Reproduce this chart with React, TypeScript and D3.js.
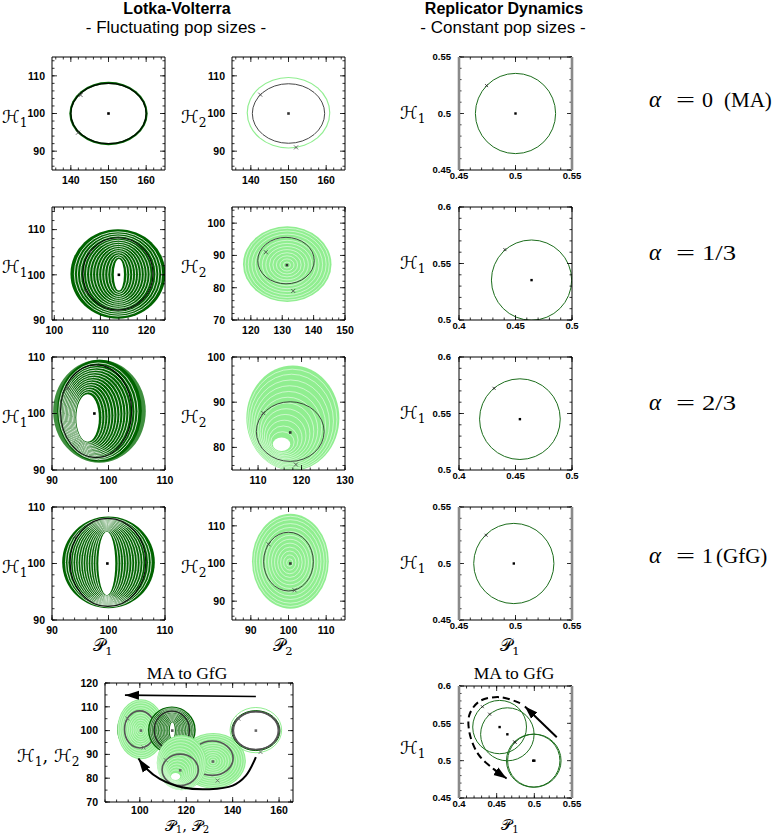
import React from 'react';
import * as d3 from 'd3';

// ---------- colours ----------
const DARK = '#006400';
const LIGHT = '#90ee90';
const MID = '#3f8f3f';

// ---------- data: Lotka-Volterra, host 1 vs parasite 1 (per alpha = 0, 1/3, 2/3, 1) ----------
const LV1_XDOM = [[135, 165], [99.5, 124], [90, 110], [90, 110]];
const LV1_YDOM = [[85, 115], [90, 115], [90, 110], [90, 110]];
const LV1_XTICKS = [[140, 150, 160], [100, 110, 120], [90, 100, 110], [90, 100, 110]];
const LV1_YTICKS = [[90, 100, 110], [90, 100, 110], [90, 100, 110], [90, 100, 110]];
// ellipses [cx, cy, rx, ry]
const H1_ORBIT = [[150, 100, 10.0, 8.0], [113.8, 100.2, 7.6, 8.0], [97.8, 100.4, 6.3, 8.2], [99.9, 100.2, 6.7, 7.8]];
const H1_SPREAD = [[150, 100, 10.4, 8.4], [113.8, 100.2, 10.3, 9.9], [98.4, 100.5, 7.5, 9.0], [100, 100.2, 8.2, 8.1]];
const H1_HOLE = [[150, 100, 9.8, 7.8], [114, 100, 1.1, 3.5], [96.3, 99.2, 2.0, 4.2], [99.7, 100, 1.5, 5.6]];
const H1_HALO = [null, null, [98.4, 100.4, 8.2, 9.1], null];
const H1_EQ = [[150, 100], [114, 100], [97.5, 100], [99.8, 100]];
const H1_MARK = [[[142.6, 104.9], [141.9, 94.9]], [[107.8, 105.2], [106.8, 96.3]], [[92.8, 104.5]], [[94, 104.8]]];

// ---------- data: Lotka-Volterra, host 2 vs parasite 2 ----------
const LV2_XDOM = [[135, 165], [114, 150], [104, 130], [85, 115]];
const LV2_YDOM = [[85, 115], [70, 105], [75, 100], [85, 115]];
const LV2_XTICKS = [[140, 150, 160], [120, 130, 140, 150], [110, 120, 130], [90, 100, 110]];
const LV2_YTICKS = [[90, 100, 110], [70, 80, 90, 100], [80, 90, 100], [90, 100, 110]];
const H2_ORBIT = [[150, 100, 9.6, 7.9], [131.2, 88.4, 9.0, 7.2], [117.4, 83.5, 7.8, 6.6], [100, 100.5, 6.6, 7.8]];
const H2_SPREAD = [[150, 100.2, 11.1, 9.5], [131.6, 87.3, 14.1, 11.7], [118, 86.5, 10.7, 11.6], [100.5, 100.6, 10.2, 12.6]];
const H2_HOLE = [[150, 100.2, 10.8, 9.2], [131.5, 87, 0, 0], [115.4, 80.7, 2.0, 1.5], [100.3, 100.2, 0, 0]];
const H2_EQ = [[150, 100], [131.5, 87], [117.4, 83.3], [100.5, 100]];
const H2_MARK = [[[142.5, 105], [152, 91]], [[124.8, 91], [133.5, 79]], [[111.2, 87.6], [118.7, 76.2]], [[94.7, 105.1], [101.6, 92.9]]];

const RING_DARK = [0.07, 0.14, 0.21, 0.28, 0.35, 0.42, 0.49, 0.56, 0.63, 0.7, 0.77, 0.84, 0.91];
const RING_LIGHT = [0.08, 0.16, 0.24, 0.32, 0.4, 0.48, 0.56, 0.64, 0.72, 0.8, 0.88, 0.95];

// ---------- data: replicator dynamics ----------
const RD_XDOM = [[0.45, 0.55], [0.4, 0.5], [0.4, 0.5], [0.45, 0.55]];
const RD_YDOM = [[0.45, 0.55], [0.5, 0.6], [0.5, 0.6], [0.45, 0.55]];
const RD_XTICKS = [[0.45, 0.5, 0.55], [0.4, 0.45, 0.5], [0.4, 0.45, 0.5], [0.45, 0.5, 0.55]];
const RD_YTICKS = [[0.45, 0.5, 0.55], [0.5, 0.55, 0.6], [0.5, 0.55, 0.6], [0.45, 0.5, 0.55]];
const RD_CX = [0.5, 0.4642, 0.4539, 0.4985];
const RD_CY = [0.5, 0.5353, 0.545, 0.5];
const RD_R = [0.0355, 0.0355, 0.0357, 0.0355];
const RD_MX = [0.4744, 0.4406, 0.431, 0.474];
const RD_MY = [0.5247, 0.5623, 0.5723, 0.525];

// ---------- combined panels ----------
const LVC_XDOM = [85, 166];
const LVC_YDOM = [70, 120];
const LVC_XTICKS = [100, 120, 140, 160];
const LVC_YTICKS = [70, 80, 90, 100, 110, 120];
const LV_TOP_ARROW = [[150, 114.3], [93.6, 114.9]];
const LV_CURVE_ARROW = [[150, 88.9], [145.7, 81.1], [140, 76.9], [130, 75.4], [118.6, 76.1], [108.6, 79.7], [102.9, 84], [99.4, 88.3]];

const RDC_XDOM = [0.4, 0.55];
const RDC_YDOM = [0.45, 0.6];
const RDC_XTICKS = [0.4, 0.45, 0.5, 0.55];
const RDC_YTICKS = [0.45, 0.5, 0.55, 0.6];
const RD_SOLID_ARROW = [[0.5298, 0.5313], [0.4875, 0.5725]];
const RD_DASH_ARROW = [[0.481, 0.577], [0.455, 0.585], [0.428, 0.58], [0.414, 0.562], [0.414, 0.537], [0.426, 0.508], [0.447, 0.488], [0.4632, 0.4761]];

const ALPHA_VAL = ['0', '1/3', '2/3', '1'];
const ALPHA_TAG = ['(MA)', '', '', '(GfG)'];

// ---------- layout ----------
const COLX = [52, 232, 459];
const ROWY = [57, 207, 357, 507];
const BOX = 113;
const ALPHA_BASE = [107, 260, 410, 563];

const SANS = 'Liberation Sans, Arial, Helvetica, sans-serif';
const SERIF = 'Liberation Serif, Times New Roman, serif';
const MATH = 'DejaVu Serif, DejaVu Sans, serif';

type Sc = d3.ScaleLinear<number, number>;
type E4 = number[];

function ep(sx: Sc, sy: Sc, e: E4) {
  const [cx, cy, rx, ry] = e;
  return { cx: sx(cx), cy: sy(cy), rx: Math.abs(sx(cx + rx) - sx(cx)), ry: Math.abs(sy(cy + ry) - sy(cy)) };
}
function lerp(a: E4, b: E4, f: number) {
  return a.map((v, i) => v + f * (b[i] - v));
}
function minorRange(d: number[], step: number) {
  const s = Math.ceil(d[0] / step - 1e-9);
  const e = Math.floor(d[1] / step + 1e-9);
  return d3.range(s, e + 1).map((k) => k * step);
}

function Mass({ sx, sy, outer, hole, halo, fill, fracs, ringW }: any) {
  return (
    <g>
      {halo && <ellipse {...ep(sx, sy, halo)} fill={MID} />}
      <ellipse {...ep(sx, sy, outer)} fill={fill} />
      {fracs.map((f: number, i: number) => (
        <ellipse key={i} {...ep(sx, sy, lerp(hole, outer, f))} fill="none" stroke="#fff" strokeWidth={ringW} opacity={0.9} />
      ))}
      {hole[2] > 0 && <ellipse {...ep(sx, sy, hole)} fill="#fff" />}
    </g>
  );
}

function Cross({ x, y, s = 2, color = '#444' }: any) {
  return <path d={`M${x - s},${y - s}L${x + s},${y + s}M${x - s},${y + s}L${x + s},${y - s}`} stroke={color} strokeWidth={0.8} />;
}
function Dot({ x, y, s = 2.6, color = '#000' }: any) {
  return <rect x={x - s / 2} y={y - s / 2} width={s} height={s} fill={color} />;
}

function Panel({ id, x, y, w, h, xd, yd, xt, yt, xm, ym, kind, grayLR, xlOff, children }: any) {
  const sx = d3.scaleLinear().domain(xd).range([x, x + w]);
  const sy = d3.scaleLinear().domain(yd).range([y + h, y]);
  const lv = kind === 'lv';
  const fs = lv ? 10.5 : 9.5;
  const maj = 5, mn = 2.5;
  const xMinor = minorRange(xd, xm);
  const yMinor = minorRange(yd, ym);
  const off = xlOff ?? (lv ? 14 : 9);
  return (
    <g>
      <defs>
        <clipPath id={id}>
          <rect x={x} y={y} width={w} height={h} />
        </clipPath>
      </defs>
      <g clipPath={`url(#${id})`}>{children(sx, sy)}</g>
      <g stroke="#000" strokeWidth={0.8}>
        {xMinor.map((v, i) => (
          <g key={'xm' + i}>
            <line x1={sx(v)} x2={sx(v)} y1={y + h} y2={y + h - mn} />
            <line x1={sx(v)} x2={sx(v)} y1={y} y2={y + mn} />
          </g>
        ))}
        {yMinor.map((v, i) => (
          <g key={'ym' + i}>
            <line y1={sy(v)} y2={sy(v)} x1={x} x2={x + mn} />
            <line y1={sy(v)} y2={sy(v)} x1={x + w} x2={x + w - mn} />
          </g>
        ))}
        {xt.map((v: number, i: number) => (
          <g key={'xt' + i}>
            <line x1={sx(v)} x2={sx(v)} y1={y + h} y2={y + h - maj} />
            <line x1={sx(v)} x2={sx(v)} y1={y} y2={y + maj} />
          </g>
        ))}
        {yt.map((v: number, i: number) => (
          <g key={'yt' + i}>
            <line y1={sy(v)} y2={sy(v)} x1={x} x2={x + maj} />
            <line y1={sy(v)} y2={sy(v)} x1={x + w} x2={x + w - maj} />
          </g>
        ))}
      </g>
      <line x1={x} x2={x + w} y1={y} y2={y} stroke="#000" strokeWidth={1} />
      <line x1={x} x2={x + w} y1={y + h} y2={y + h} stroke="#000" strokeWidth={1} />
      <line x1={x} x2={x} y1={y} y2={y + h} stroke={grayLR ? '#8a8a8a' : '#000'} strokeWidth={grayLR ? 2.6 : 1} />
      <line x1={x + w} x2={x + w} y1={y} y2={y + h} stroke={grayLR ? '#8a8a8a' : '#000'} strokeWidth={grayLR ? 2.6 : 1} />
      <g fontFamily={SANS} fontWeight="bold" fontSize={fs} fill="#000">
        {xt.map((v: number, i: number) => (
          <text key={'xl' + i} x={sx(v)} y={y + h + off} textAnchor="middle">
            {String(v)}
          </text>
        ))}
        {yt.map((v: number, i: number) => (
          <text key={'yl' + i} x={x - (lv ? 7 : 8)} y={sy(v) + (lv ? 3.8 : 3.3)} textAnchor="end">
            {String(v)}
          </text>
        ))}
      </g>
    </g>
  );
}

function MathLab({ x, y, parts, anchor = 'start', size = 18, sub = 3.5 }: any) {
  const nodes: any[] = [];
  parts.forEach((p: string[], i: number) => {
    nodes.push(
      <tspan key={'b' + i} dy={i > 0 ? -sub : 0}>
        {(i > 0 ? ', ' : '') + p[0]}
      </tspan>
    );
    nodes.push(
      <tspan key={'s' + i} fontSize={size * 0.68} dy={sub}>
        {p[1]}
      </tspan>
    );
  });
  return (
    <text x={x} y={y} fontFamily={MATH} fontSize={size} textAnchor={anchor} fill="#000">
      {nodes}
    </text>
  );
}

function AlphaLabel({ i }: { i: number }) {
  const y = ALPHA_BASE[i];
  const val = ALPHA_VAL[i];
  const tag = ALPHA_TAG[i];
  const valW = val.length > 1 ? 34 : 11;
  return (
    <g fontFamily={SERIF} fontSize={21} fill="#000">
      <text x={649} y={y} fontStyle="italic" fontSize={23}>
        α
      </text>
      <text x={676} y={y} textLength={19} lengthAdjust="spacingAndGlyphs">
        =
      </text>
      <text x={702} y={y} textLength={valW} lengthAdjust="spacingAndGlyphs">
        {val}
      </text>
      {tag && (
        <text x={i === 0 ? 724 : 716} y={y}>
          {tag}
        </text>
      )}
    </g>
  );
}

function LVPanelContent({ sx, sy, a, host }: any) {
  const dark = host === 1;
  const spread = dark ? H1_SPREAD[a] : H2_SPREAD[a];
  const hole = dark ? H1_HOLE[a] : H2_HOLE[a];
  const orbit = dark ? H1_ORBIT[a] : H2_ORBIT[a];
  const eq = dark ? H1_EQ[a] : H2_EQ[a];
  const marks = dark ? H1_MARK[a] : H2_MARK[a];
  const halo = dark ? H1_HALO[a] : null;
  const fracs = a === 0 ? [] : dark ? RING_DARK : RING_LIGHT;
  return (
    <g>
      <Mass sx={sx} sy={sy} outer={spread} hole={hole} halo={halo} fill={dark ? DARK : LIGHT} fracs={fracs} ringW={dark ? 0.9 : 0.6} />
      <ellipse {...ep(sx, sy, orbit)} fill="none" stroke={dark ? '#000' : '#333'} strokeWidth={dark ? 1.2 : 1} opacity={0.9} />
      {marks.map((m: number[], k: number) => (
        <Cross key={k} x={sx(m[0])} y={sy(m[1])} />
      ))}
      <Dot x={sx(eq[0])} y={sy(eq[1])} color={dark ? '#000' : '#333'} />
    </g>
  );
}

function LVCombined({ sx, sy }: any) {
  const groups: any[] = [];
  const massH1 = (a: number) => (
    <g key={'h1' + a}>
      <Mass sx={sx} sy={sy} outer={H1_SPREAD[a]} hole={H1_HOLE[a]} halo={H1_HALO[a]} fill={DARK} fracs={RING_DARK} ringW={0.7} />
      <ellipse {...ep(sx, sy, H1_ORBIT[a])} fill="none" stroke="#222" strokeWidth={1.2} />
      <Dot x={sx(H1_EQ[a][0])} y={sy(H1_EQ[a][1])} color="#555" />
    </g>
  );
  const massH2 = (a: number) => (
    <g key={'h2' + a}>
      <Mass sx={sx} sy={sy} outer={H2_SPREAD[a]} hole={H2_HOLE[a]} fill={LIGHT} fracs={RING_LIGHT} ringW={0.5} />
      <ellipse {...ep(sx, sy, H2_ORBIT[a])} fill="none" stroke="#555" strokeWidth={1.6} />
      {H2_MARK[a].map((m: number[], k: number) => (
        <Cross key={k} x={sx(m[0])} y={sy(m[1])} color="#666" />
      ))}
      <Dot x={sx(H2_EQ[a][0])} y={sy(H2_EQ[a][1])} color="#666" />
    </g>
  );
  groups.push(massH1(2), massH1(3), massH2(3), massH1(1), massH2(1), massH2(2));
  groups.push(
    <g key="a0">
      <ellipse {...ep(sx, sy, H2_SPREAD[0])} fill="none" stroke={LIGHT} strokeWidth={1} />
      <ellipse {...ep(sx, sy, H1_SPREAD[0])} fill="none" stroke={DARK} strokeWidth={1} />
      <ellipse {...ep(sx, sy, H1_ORBIT[0])} fill="none" stroke="#444" strokeWidth={1.4} />
      <ellipse {...ep(sx, sy, H2_ORBIT[0])} fill="none" stroke="#555" strokeWidth={1.2} />
      {H2_MARK[0].map((m: number[], k: number) => (
        <Cross key={k} x={sx(m[0])} y={sy(m[1])} color="#666" />
      ))}
      <Dot x={sx(H1_EQ[0][0])} y={sy(H1_EQ[0][1])} color="#666" />
    </g>
  );
  const line = d3.line<number[]>().x((d) => sx(d[0])).y((d) => sy(d[1]));
  const curve = d3.line<number[]>().x((d) => sx(d[0])).y((d) => sy(d[1])).curve(d3.curveCatmullRom);
  return (
    <g>
      {groups}
      <path d={line(LV_TOP_ARROW) || ''} stroke="#000" strokeWidth={1.6} fill="none" markerEnd="url(#headA)" />
      <path d={curve(LV_CURVE_ARROW) || ''} stroke="#000" strokeWidth={2} fill="none" markerEnd="url(#headA)" />
    </g>
  );
}

function RDContent({ sx, sy, idx }: any) {
  return (
    <g>
      {idx.map((i: number) => (
        <g key={i}>
          <ellipse {...ep(sx, sy, [RD_CX[i], RD_CY[i], RD_R[i], RD_R[i]])} fill="none" stroke="#1d6e1d" strokeWidth={1} />
          <Cross x={sx(RD_MX[i])} y={sy(RD_MY[i])} s={1.5} color="#222" />
          <Dot x={sx(RD_CX[i])} y={sy(RD_CY[i])} s={2.4} color="#000" />
        </g>
      ))}
    </g>
  );
}

function RDCombined({ sx, sy }: any) {
  const line = d3.line<number[]>().x((d) => sx(d[0])).y((d) => sy(d[1]));
  const curve = d3.line<number[]>().x((d) => sx(d[0])).y((d) => sy(d[1])).curve(d3.curveCatmullRom);
  return (
    <g>
      <RDContent sx={sx} sy={sy} idx={[0, 1, 2, 3]} />
      <path d={line(RD_SOLID_ARROW) || ''} stroke="#000" strokeWidth={2} fill="none" markerEnd="url(#headB)" />
      <path d={curve(RD_DASH_ARROW) || ''} stroke="#000" strokeWidth={2} fill="none" strokeDasharray="7,4" markerEnd="url(#headB)" />
    </g>
  );
}

export default function App() {
  const rows = [0, 1, 2, 3];
  return (
    <svg width={778} height={835} style={{ position: 'absolute', left: 0, top: 0, background: '#fff' }} xmlns="http://www.w3.org/2000/svg">
      <defs>
        <marker id="headA" markerUnits="userSpaceOnUse" markerWidth={15} markerHeight={10} refX={14} refY={5} orient="auto" viewBox="0 0 15 10">
          <path d="M0,0.5 L14,5 L0,9.5 Z" fill="#000" />
        </marker>
        <marker id="headB" markerUnits="userSpaceOnUse" markerWidth={14} markerHeight={10} refX={13} refY={5} orient="auto" viewBox="0 0 14 10">
          <path d="M0,0.5 L13,5 L0,9.5 Z" fill="#000" />
        </marker>
      </defs>
      <rect x={0} y={0} width={778} height={835} fill="#fff" />

      <text x={177} y={14} textAnchor="middle" fontFamily={SANS} fontWeight="bold" fontSize={16}>
        Lotka-Volterra
      </text>
      <text x={176} y={33} textAnchor="middle" fontFamily={SANS} fontSize={17}>
        - Fluctuating pop sizes -
      </text>
      <text x={504} y={14} textAnchor="middle" fontFamily={SANS} fontWeight="bold" fontSize={16}>
        Replicator Dynamics
      </text>
      <text x={503} y={33} textAnchor="middle" fontFamily={SANS} fontSize={17}>
        - Constant pop sizes -
      </text>

      {rows.map((r) => (
        <g key={r}>
          <Panel id={`lv1-${r}`} x={COLX[0]} y={ROWY[r]} w={BOX} h={BOX} xd={LV1_XDOM[r]} yd={LV1_YDOM[r]} xt={LV1_XTICKS[r]} yt={LV1_YTICKS[r]} xm={2} ym={2} kind="lv">
            {(sx: Sc, sy: Sc) => <LVPanelContent sx={sx} sy={sy} a={r} host={1} />}
          </Panel>
          <Panel id={`lv2-${r}`} x={COLX[1]} y={ROWY[r]} w={BOX} h={BOX} xd={LV2_XDOM[r]} yd={LV2_YDOM[r]} xt={LV2_XTICKS[r]} yt={LV2_YTICKS[r]} xm={2} ym={2} kind="lv">
            {(sx: Sc, sy: Sc) => <LVPanelContent sx={sx} sy={sy} a={r} host={2} />}
          </Panel>
          <Panel id={`rd-${r}`} x={COLX[2]} y={ROWY[r]} w={BOX} h={BOX} xd={RD_XDOM[r]} yd={RD_YDOM[r]} xt={RD_XTICKS[r]} yt={RD_YTICKS[r]} xm={0.01} ym={0.01} kind="rd" grayLR={r === 0 || r === 3}>
            {(sx: Sc, sy: Sc) => <RDContent sx={sx} sy={sy} idx={[r]} />}
          </Panel>
          <MathLab x={2} y={ROWY[r] + 66} parts={[['ℋ', '1']]} />
          <MathLab x={181} y={ROWY[r] + 66} parts={[['ℋ', '2']]} />
          <MathLab x={400} y={ROWY[r] + 62} parts={[['ℋ', '1']]} />
          <AlphaLabel i={r} />
        </g>
      ))}

      <MathLab x={103} y={651} parts={[['𝒫', '1']]} anchor="middle" size={17} />
      <MathLab x={283} y={651} parts={[['𝒫', '2']]} anchor="middle" size={17} />
      <MathLab x={510} y={651} parts={[['𝒫', '1']]} anchor="middle" size={17} />

      <text x={187} y={679} textAnchor="middle" fontFamily={SERIF} fontSize={17.5}>
        MA to GfG
      </text>
      <text x={514} y={679} textAnchor="middle" fontFamily={SERIF} fontSize={17.5}>
        MA to GfG
      </text>
      <Panel id="lvc" x={105} y={683} w={188} h={119} xd={LVC_XDOM} yd={LVC_YDOM} xt={LVC_XTICKS} yt={LVC_YTICKS} xm={5} ym={5} kind="lv" xlOff={12}>
        {(sx: Sc, sy: Sc) => <LVCombined sx={sx} sy={sy} />}
      </Panel>
      <Panel id="rdc" x={459} y={686} w={113} h={112} xd={RDC_XDOM} yd={RDC_YDOM} xt={RDC_XTICKS} yt={RDC_YTICKS} xm={0.01} ym={0.01} kind="rd" grayLR={true}>
        {(sx: Sc, sy: Sc) => <RDCombined sx={sx} sy={sy} />}
      </Panel>
      <MathLab x={17} y={762} parts={[['ℋ', '1'], ['ℋ', '2']]} />
      <MathLab x={187} y={831} parts={[['𝒫', '1'], ['𝒫', '2']]} anchor="middle" size={15} sub={2} />
      <MathLab x={400} y={754} parts={[['ℋ', '1']]} />
      <MathLab x={510} y={830} parts={[['𝒫', '1']]} anchor="middle" size={15} sub={2.5} />
    </svg>
  );
}
